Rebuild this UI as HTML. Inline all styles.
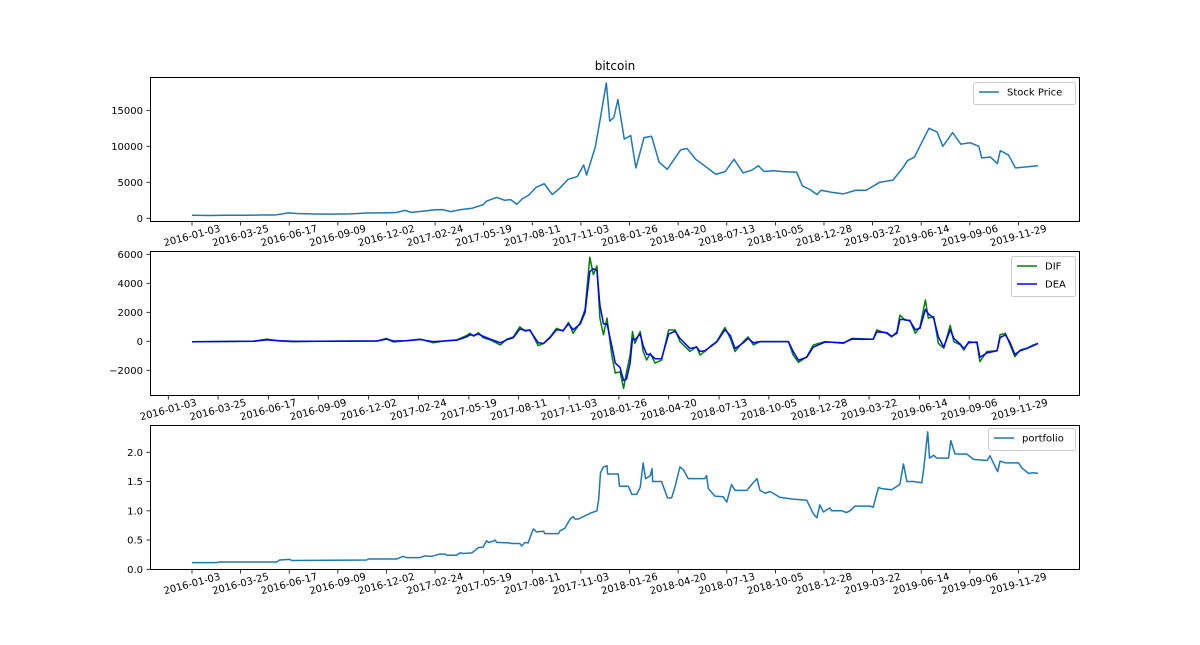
<!DOCTYPE html>
<html><head><meta charset="utf-8"><style>
html,body{margin:0;padding:0;background:#fff;}
svg text{font-family:"DejaVu Sans","Liberation Sans",sans-serif;font-size:10px;fill:#000;}
</style></head><body>
<svg id="chart" width="1200" height="640" xmlns="http://www.w3.org/2000/svg">
<rect width="1200" height="640" fill="#fff"/>
<text x="615" y="70" text-anchor="middle" style="font-size:12px">bitcoin</text>
<g id="p1"></g>
<g id="p2"></g>
<g id="p3"></g>
</svg>
<script>
const tickLabels=["2016-01-03","2016-03-25","2016-06-17","2016-09-09","2016-12-02","2017-02-24","2017-05-19","2017-08-11","2017-11-03","2018-01-26","2018-04-20","2018-07-13","2018-10-05","2018-12-28","2019-03-22","2019-06-14","2019-09-06","2019-11-29"];
const tickIdx1=[0,82,164,246,328,410,492,574,656,738,820,902,984,1066,1148,1230,1312,1394];
const tickIdx2=[-40,44,129,213,298,382,467,551,636,720,804,889,973,1058,1142,1227,1311,1396];

const priceDates=["2016-01-03","2016-02-01","2016-03-01","2016-04-01","2016-05-01","2016-05-25","2016-06-17","2016-07-01","2016-08-01","2016-09-01","2016-10-01","2016-11-01","2016-12-01","2016-12-20","2017-01-04","2017-01-15","2017-02-01","2017-02-25","2017-03-10","2017-03-24","2017-04-10","2017-04-30","2017-05-19","2017-05-25","2017-06-11","2017-06-25","2017-07-05","2017-07-16","2017-07-25","2017-08-05","2017-08-18","2017-09-01","2017-09-15","2017-09-28","2017-10-12","2017-10-28","2017-11-08","2017-11-13","2017-11-28","2017-12-07","2017-12-17","2017-12-23","2017-12-30","2018-01-06","2018-01-12","2018-01-17","2018-01-28","2018-02-06","2018-02-20","2018-03-05","2018-03-18","2018-04-01","2018-04-24","2018-05-05","2018-05-20","2018-06-01","2018-06-24","2018-07-10","2018-07-25","2018-08-10","2018-08-25","2018-09-05","2018-09-15","2018-10-01","2018-10-15","2018-11-10","2018-11-20","2018-12-03","2018-12-15","2018-12-22","2019-01-10","2019-01-30","2019-02-20","2019-03-10","2019-04-02","2019-04-25","2019-05-12","2019-05-20","2019-06-01","2019-06-26","2019-07-10","2019-07-20","2019-08-06","2019-08-20","2019-09-05","2019-09-20","2019-09-25","2019-10-10","2019-10-22","2019-10-27","2019-11-10","2019-11-22","2019-12-31"];
const priceValues=[430,380,430,415,450,450,750,670,600,580,610,730,750,800,1100,820,970,1180,1200,930,1200,1400,1900,2400,2900,2500,2600,1950,2700,3200,4300,4800,3300,4200,5400,5800,7400,6000,9900,14000,18800,13500,14000,16500,13500,11000,11500,7000,11200,11400,7800,6800,9500,9700,8200,7500,6100,6500,8200,6300,6700,7300,6500,6600,6500,6400,4500,4000,3300,3900,3600,3400,3900,3900,5000,5300,7000,8000,8500,12500,12000,10000,11900,10300,10500,10000,8400,8500,7600,9400,8800,7000,7300];

const macdIdx=[0,103,126,148,171,216,272,312,328,340,362,385,407,430,447,463,469,475,483,491,503,520,531,542,553,562,570,584,593,604,615,626,635,643,655,663,671,677,683,688,694,700,708,714,722,728,733,739,743,747,756,761,767,773,781,792,804,815,823,840,851,857,865,877,885,899,908,916,930,938,947,958,1006,1014,1023,1037,1048,1068,1099,1113,1149,1155,1172,1180,1189,1194,1203,1211,1220,1228,1237,1242,1251,1259,1268,1279,1285,1296,1302,1310,1324,1329,1341,1358,1363,1372,1380,1388,1397,1408,1419,1427];
const difValues=[-30,0,150,20,-30,0,20,20,200,-50,50,150,-100,50,100,400,550,350,600,250,100,-250,150,300,1000,700,800,-300,-150,300,900,700,1300,550,1300,2200,5800,4600,5200,1600,450,1600,-950,-2200,-2100,-3240,-2100,-950,670,-140,670,-700,-1290,-830,-1500,-1300,780,780,-20,-700,-370,-950,-700,-250,-20,950,200,-700,-20,300,-250,-20,-20,-950,-1450,-1060,-250,-20,-140,200,140,780,550,300,650,1800,1450,1450,550,1000,2850,1600,1700,-140,-480,1100,-20,-250,-600,-20,-100,-1400,-700,-650,450,550,-250,-1060,-600,-480,-250,-140];
const deaValues=[-30,0,100,40,0,0,15,20,150,20,40,120,-20,30,80,300,450,400,500,350,150,-100,100,250,850,750,750,-100,-150,250,800,750,1200,800,1200,2000,4800,5000,4900,2500,1200,1200,-300,-1500,-1800,-2700,-2600,-1500,200,100,500,-300,-900,-900,-1200,-1200,500,700,200,-500,-400,-700,-650,-300,-50,800,400,-500,-100,200,-100,-20,-20,-700,-1300,-1100,-400,-50,-100,150,140,650,600,350,550,1500,1500,1400,800,900,2200,1900,1600,300,-400,800,200,-200,-500,-100,-50,-1100,-800,-650,250,450,-100,-900,-650,-500,-300,-150];

const portIdx=[0,41,47,143,148,165,168,295,297,345,356,362,385,393,404,418,427,430,446,452,458,472,483,491,497,500,508,511,514,536,539,553,556,562,567,573,576,581,593,595,618,621,629,632,638,643,646,652,672,683,686,689,694,700,701,719,721,736,742,750,756,761,765,773,776,777,792,802,809,815,823,829,837,865,868,871,882,896,902,910,916,936,944,953,958,967,975,992,1014,1037,1048,1054,1059,1065,1076,1079,1096,1104,1110,1118,1144,1149,1158,1163,1180,1194,1200,1206,1217,1231,1234,1241,1244,1251,1256,1276,1280,1287,1307,1318,1341,1346,1355,1359,1363,1372,1394,1400,1411,1419,1427];
const portValues=[0.114,0.114,0.125,0.125,0.16,0.17,0.15,0.16,0.175,0.175,0.22,0.2,0.2,0.23,0.22,0.26,0.26,0.24,0.24,0.28,0.27,0.28,0.37,0.38,0.49,0.46,0.48,0.5,0.46,0.45,0.44,0.44,0.40,0.46,0.45,0.62,0.69,0.64,0.65,0.61,0.61,0.66,0.70,0.76,0.86,0.90,0.86,0.86,0.96,1.0,1.2,1.65,1.75,1.77,1.63,1.63,1.42,1.42,1.28,1.28,1.4,1.82,1.55,1.6,1.72,1.5,1.5,1.22,1.22,1.42,1.75,1.7,1.55,1.55,1.6,1.38,1.25,1.24,1.15,1.45,1.35,1.35,1.45,1.55,1.35,1.3,1.33,1.23,1.2,1.18,0.95,0.88,1.1,0.98,1.05,1.0,1.0,0.97,1.0,1.08,1.08,1.06,1.4,1.38,1.36,1.45,1.8,1.5,1.5,1.48,1.7,2.35,1.9,1.95,1.9,1.9,2.2,1.97,1.97,1.88,1.86,1.94,1.75,1.67,1.85,1.82,1.82,1.73,1.64,1.65,1.64];

const priceTicks=[0,5000,10000,15000];
const macdTicks=[-2000,0,2000,4000,6000];
const portTicks=[0.0,0.5,1.0,1.5,2.0];

const NS="http://www.w3.org/2000/svg";
function mk(parent,tag,attrs){const e=document.createElementNS(NS,tag);for(const k in attrs)e.setAttribute(k,attrs[k]);parent.appendChild(e);return e;}
const X0=192,X1=1038,IDXMAX=1427;
const xIdx=i=>X0+(i/IDXMAX)*(X1-X0);
const d0=Date.parse("2016-01-03"),d1=Date.parse("2019-12-31");
const xDate=s=>X0+(Date.parse(s)-d0)/(d1-d0)*(X1-X0);
const y1=v=>218.3-v*0.0072;
const y2=v=>341.3-v*0.0145;
const y3=v=>569.3-v*58.5;
const AX={left:150,right:1080};

function panel(g,top,bot,clipId){
  const defs=mk(g,'defs',{});const cp=mk(defs,'clipPath',{id:clipId});
  mk(cp,'rect',{x:AX.left,y:top,width:AX.right-AX.left,height:bot-top});
}
function frame(g,top,bot){
  const r=mk(g,'rect',{x:AX.left+0.5,y:top+0.5,width:AX.right-AX.left-1,height:bot-top-1,fill:'none',stroke:'#000','stroke-width':1});
  
  
}
function xticks(g,bot,xs,name){
  xs.forEach((x,i)=>{
    const t=mk(g,'line',{x1:x,x2:x,y1:bot,y2:bot+3.5,stroke:'#000','stroke-width':0.8});
    
    
    const cy=bot+14;
    const tx=mk(g,'text',{x:x,y:cy+3,'text-anchor':'middle',transform:`rotate(-15 ${x} ${cy})`});
    tx.textContent=tickLabels[i];
    
    
  });
}
function yticks(g,ticks,yf,fmt,name){
  ticks.forEach(v=>{
    const y=yf(v);
    const t=mk(g,'line',{x1:AX.left-3.5,x2:AX.left,y1:y,y2:y,stroke:'#000','stroke-width':0.8});
    
    
    const tx=mk(g,'text',{x:AX.left-7,y:y+3.5,'text-anchor':'end'});
    tx.textContent=fmt(v);
    
    
  });
}
function line(g,xs,ys,color,clip,name){
  let d='';xs.forEach((x,i)=>{d+=(i?'L':'M')+x.toFixed(2)+','+ys[i].toFixed(2);});
  const p=mk(g,'path',{d:d,fill:'none',stroke:color,'stroke-width':1.5,'stroke-linejoin':'round','clip-path':`url(#${clip})`});
  
  
}
function legend(g,x,y,w,entries){
  const h=entries.length*18+4;
  const r=mk(g,'rect',{x:x+0.5,y:y+0.5,width:w,height:h,rx:2,fill:'#fff',stroke:'#ccc','stroke-width':1,'fill-opacity':0.8});
  
  
  entries.forEach((e,i)=>{
    const yy=y+10+i*18;
    const l=mk(g,'line',{x1:x+6,x2:x+26,y1:yy,y2:yy,stroke:e[1],'stroke-width':1.5});
    
    
    const t=mk(g,'text',{x:x+34,y:yy+3.5});
    t.textContent=e[0];
    
    
  });
}

// Panel 1
const g1=document.getElementById('p1');
panel(g1,77,222,'c1');
line(g1,priceDates.map(xDate),priceValues.map(y1),'#1f77b4','c1','price-line');
frame(g1,77,222);
xticks(g1,222,tickIdx1.map(xIdx),'price-x');
yticks(g1,priceTicks,y1,v=>String(v),'price-y');
legend(g1,973,82,102,[["Stock Price","#1f77b4"]]);

// Panel 2
const g2=document.getElementById('p2');
panel(g2,251,396,'c2');
const mx=macdIdx.map(xIdx);
line(g2,mx,difValues.map(y2),'#008000','c2','dif-line');
line(g2,mx,deaValues.map(y2),'#0000ff','c2','dea-line');
frame(g2,251,396);
xticks(g2,396,tickIdx2.map(xIdx),'macd-x');
yticks(g2,macdTicks,y2,v=>(v<0?'\u2212'+Math.abs(v):String(v)),'macd-y');
legend(g2,1011,256,64,[["DIF","#008000"],["DEA","#0000ff"]]);

// Panel 3
const g3=document.getElementById('p3');
panel(g3,425,570,'c3');
line(g3,portIdx.map(xIdx),portValues.map(y3),'#1f77b4','c3','portfolio-line');
frame(g3,425,570);
xticks(g3,570,tickIdx1.map(xIdx),'portfolio-x');
yticks(g3,portTicks,y3,v=>v.toFixed(1),'portfolio-y');
legend(g3,988,428,87,[["portfolio","#1f77b4"]]);
</script>
</body></html>
